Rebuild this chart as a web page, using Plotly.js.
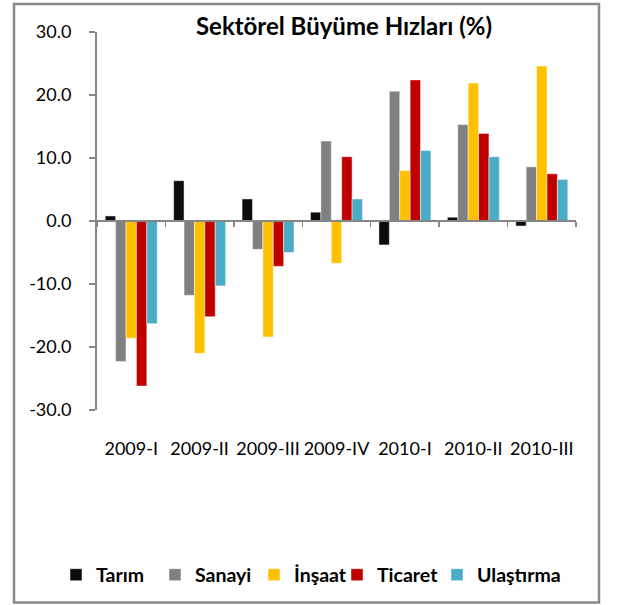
<!DOCTYPE html>
<html>
<head>
<meta charset="utf-8">
<script src="https://cdn.plot.ly/plotly-3.0.1.min.js"></script>
<style>html,body{margin:0;padding:0;background:#fff;}#chart{width:625px;height:605px;}</style>
</head>
<body>
<div id="chart"></div>
<script>
// Data
const categories = ["2009-I", "2009-II", "2009-III", "2009-IV", "2010-I", "2010-II", "2010-III"];
const tarim     = [0.8, 6.4, 3.5, 1.4, -3.8, 0.6, -0.8];
const sanayi    = [-22.3, -11.8, -4.5, 12.7, 20.6, 15.3, 8.6];
const insaat    = [-18.6, -21.0, -18.4, -6.7, 8.0, 21.9, 24.6];
const ticaret   = [-26.2, -15.2, -7.2, 10.2, 22.4, 13.9, 7.5];
const ulastirma = [-16.3, -10.3, -5.0, 3.5, 11.2, 10.2, 6.6];
const seriesNames = ["Tarım", "Sanayi", "İnşaat", "Ticaret", "Ulaştırma"];
const yTickVals = [-30, -20, -10, 0, 10, 20, 30];
const yTickText = ["-30.0", "-20.0", "-10.0", "0.0", "10.0", "20.0", "30.0"];
const titleText = "Sektörel Büyüme Hızları (%)";

const colors = ["#0d0d0d", "#808080", "#ffc000", "#c00000", "#4bacc6"];
const seriesValues = [tarim, sanayi, insaat, ticaret, ulastirma];
const legendGroups = ["legend", "legend", "legend", "legend2", "legend3"];

const W = 625, H = 605;
const margin = {l: 97, r: 49, t: 32, b: 194};
const pw = W - margin.l - margin.r, ph = H - margin.t - margin.b;
const FONT = "Lato, 'Open Sans', sans-serif";

const traces = seriesValues.map((vals, i) => ({
  type: "bar",
  name: seriesNames[i],
  x: categories,
  y: vals,
  legend: legendGroups[i],
  marker: {color: colors[i], line: {width: 0.6, color: "rgba(255,255,255,0.8)"}},
  hoverinfo: "x+y+name"
}));
// helper trace so the zero-positioned category axis is drawn
traces.push({
  type: "scatter", mode: "none", x: categories, y: categories.map(() => null),
  xaxis: "x2", showlegend: false, hoverinfo: "skip"
});

const legendFont = {family: FONT, size: 19.5, color: "#000", weight: "bold"};
const legendY = (H - margin.b - 575) / ph;
function legendAt(px, extra) {
  return Object.assign({
    orientation: "h",
    xref: "paper", yref: "paper",
    x: (px - margin.l) / pw, xanchor: "left",
    y: legendY, yanchor: "middle",
    font: legendFont,
    itemgap: 0,
    traceorder: "normal",
    bgcolor: "rgba(0,0,0,0)"
  }, extra || {});
}

const layout = {
  width: W, height: H,
  margin: margin,
  paper_bgcolor: "#ffffff", plot_bgcolor: "#ffffff",
  font: {family: FONT, color: "#000000", size: 18},
  barmode: "group",
  bargap: 0.24,
  bargroupgap: 0,
  title: {
    text: titleText,
    font: {family: FONT, size: 24, color: "#000", weight: "bold"},
    x: 344 / W, xanchor: "center", xref: "container",
    y: 1 - 27 / H, yanchor: "middle", yref: "container"
  },
  xaxis: {
    type: "category",
    categoryorder: "array", categoryarray: categories,
    showline: false, showgrid: false, zeroline: false,
    ticks: "", ticklabelstandoff: 26,
    tickfont: {family: FONT, size: 18, color: "#000"}
  },
  xaxis2: {
    type: "category", matches: "x", overlaying: "x",
    anchor: "free", position: 0.5,
    categoryorder: "array", categoryarray: categories,
    showline: true, linecolor: "#868686", linewidth: 2,
    ticks: "outside", tickson: "boundaries", ticklen: 5, tickwidth: 1.5, tickcolor: "#868686",
    showticklabels: false, showgrid: false, zeroline: false
  },
  yaxis: {
    range: [-30, 30],
    tickvals: yTickVals, ticktext: yTickText,
    showline: true, linecolor: "#868686", linewidth: 2,
    ticks: "outside", ticklen: 6, tickwidth: 1.5, tickcolor: "#868686",
    ticklabelstandoff: 14,
    showgrid: false, zeroline: false,
    tickfont: {family: FONT, size: 18, color: "#000"}
  },
  showlegend: true,
  legend: legendAt(56, {entrywidth: 54, entrywidthmode: "pixels"}),
  legend2: legendAt(337),
  legend3: legendAt(437),
  shapes: [{
    type: "rect", xref: "paper", yref: "paper",
    x0: (14 - margin.l) / pw, x1: (599 - margin.l) / pw,
    y0: (H - margin.b - 604) / ph, y1: (H - margin.b - 4) / ph,
    line: {color: "#898989", width: 2.5}, fillcolor: "rgba(0,0,0,0)", layer: "below"
  }]
};

Plotly.newPlot("chart", traces, layout, {displayModeBar: false, staticPlot: true});
</script>
</body>
</html>
